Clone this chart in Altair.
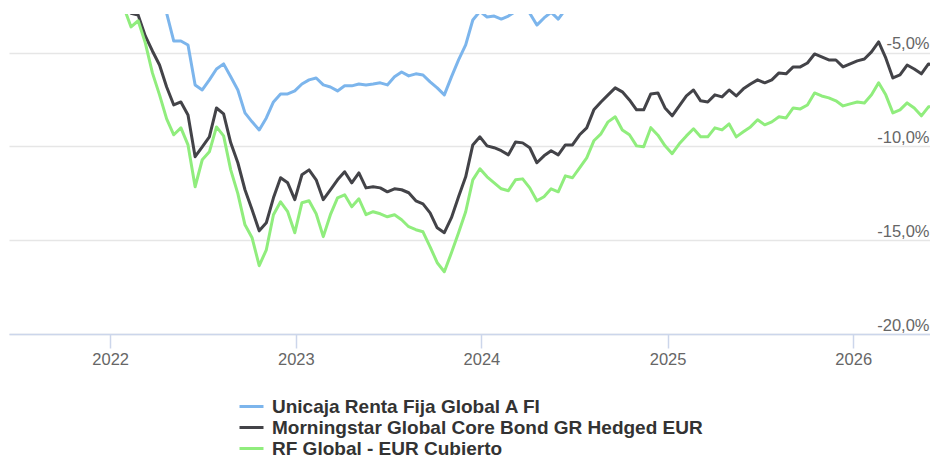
import altair as alt
import pandas as pd

# Fortnightly observations, cumulative return (%)
start_date = "2021-06-18"
n_points = 131
fechas = pd.date_range(start_date, periods=n_points, freq="14D")

series_names = [
    "Unicaja Renta Fija Global A FI",
    "Morningstar Global Core Bond GR Hedged EUR",
    "RF Global - EUR Cubierto",
]
series_colors = ["#7cb5ec", "#434348", "#90ed7d"]

unicaja = [
    0.1, 0.3, 0.4, 0.2, 0.3, 0.1, 0.0, -0.2, -0.1, -0.3, -0.4, -0.2, -0.5, -0.6, -0.7, -0.8,
    -1.1, -1.4, -1.7, -2.0, -2.3, -2.6,
    -2.9, -4.38, -4.38, -4.59, -6.72, -6.99, -6.45, -5.87, -5.60,
    -6.29, -6.99, -8.21, -8.69, -9.12, -8.48, -7.63, -7.20, -7.20, -7.04,
    -6.67, -6.45, -6.35, -6.72, -6.83, -7.04, -6.77, -6.77, -6.67, -6.72,
    -6.67, -6.61, -6.72, -6.29, -6.03, -6.24, -6.13, -6.19, -6.56, -6.88,
    -7.25, -6.29, -5.39, -4.59, -3.26, -2.8, -3.10, -3.05, -3.21, -3.05,
    -2.8, -2.6, -2.9, -3.53, -3.15, -2.85, -3.21, -2.7, -2.6, -2.2,
    -1.8, -0.9, -0.4, 0.0, 0.3, 0.2, -0.2, -0.7, -0.6, 0.1,
    0.2, -0.5, -0.9, -0.4, 0.0, 0.3, -0.2, -0.3, 0.0, -0.1,
    0.3, 0.0, 0.4, 0.6, 0.8, 0.7, 0.8, 1.2, 1.1, 1.5,
    1.5, 1.7, 2.1, 2.0, 1.9, 1.8, 1.5, 1.7, 1.8, 1.9,
    2.3, 2.8, 2.0, 1.0, 1.2, 1.6, 1.4, 1.2, 1.7, 1.6,
]

morningstar = [
    0.0, -0.2, 0.1, 0.3, 0.2, 0.0, -0.3, -0.2, -0.5, -0.4, -0.7, -0.9, -0.6, -0.8, -1.0, -1.6, -2.5,
    -2.9, -3.0, -4.11, -4.91, -5.66, -6.83, -7.79, -7.63, -8.32, -10.55, -10.02, -9.49, -7.95, -8.26,
    -9.81, -10.87, -12.31, -13.38, -14.5, -14.07, -12.74, -11.67, -11.94, -12.84,
    -11.51, -11.25, -11.78, -12.84, -12.31, -11.78, -11.35, -11.94, -11.41, -12.21,
    -12.15, -12.21, -12.42, -12.26, -12.31, -12.47, -12.90, -13.06, -13.54, -14.34,
    -14.60, -13.80, -12.68, -11.62, -9.92, -9.49, -9.97, -10.07, -10.23, -10.45,
    -9.76, -9.81, -10.07, -10.87, -10.50, -10.23, -10.45, -9.92, -9.92, -9.38,
    -9.01, -8.05, -7.63, -7.25, -6.88, -7.09, -7.52, -8.05, -8.05, -7.20,
    -7.15, -7.95, -8.37, -7.84, -7.31, -6.99, -7.57, -7.63, -7.25, -7.36,
    -6.99, -7.31, -6.93, -6.67, -6.45, -6.61, -6.45, -6.08, -6.13, -5.76,
    -5.76, -5.55, -5.07, -5.23, -5.39, -5.39, -5.76, -5.60, -5.44, -5.34,
    -4.96, -4.43, -5.28, -6.35, -6.19, -5.66, -5.87, -6.13, -5.60, -5.71,
]

rf_global = [
    0.0, -0.1, 0.2, 0.3, 0.1, -0.1, -0.3, -0.2, -0.4, -0.5, -0.8, -0.9, -0.7, -1.0, -1.2, -1.8, -2.6,
    -3.63, -3.3, -4.48, -6.08, -7.25, -8.53, -9.38, -9.01, -9.92, -12.15, -10.71, -10.29, -8.96, -9.44,
    -11.25, -12.52, -14.18, -14.87, -16.36, -15.51, -13.64, -12.95, -13.48, -14.60,
    -13.00, -12.90, -13.59, -14.81, -13.64, -12.74, -12.58, -13.22, -12.79, -13.64,
    -13.48, -13.59, -13.75, -13.64, -13.91, -14.28, -14.44, -14.55, -15.35, -16.20,
    -16.68, -15.67, -14.60, -13.48, -11.78, -11.19, -11.62, -11.94, -12.26, -12.36,
    -11.78, -11.73, -12.21, -12.90, -12.68, -12.26, -12.42, -11.57, -11.67, -11.14,
    -10.61, -9.70, -9.33, -8.69, -8.42, -9.12, -9.38, -9.97, -10.02, -9.0,
    -9.4, -9.97, -10.39, -9.86, -9.44, -9.06, -9.49, -9.49, -9.01, -9.12,
    -8.80, -9.49, -9.22, -8.96, -8.58, -8.85, -8.69, -8.42, -8.48, -7.95,
    -8.00, -7.79, -7.15, -7.31, -7.41, -7.57, -7.84, -7.73, -7.63, -7.68,
    -7.25, -6.61, -7.25, -8.21, -8.05, -7.68, -7.95, -8.37, -7.89, -7.89,
]

year_ticks = [2022, 2023, 2024, 2025, 2026]
y_ticks = [-20, -15, -10, -5]
y_min, y_max = -20, -2.94

frames = []
for name, vals in zip(series_names, [unicaja, morningstar, rf_global]):
    frames.append(pd.DataFrame({"fecha": fechas, "serie": name, "valor": vals}))
df = pd.concat(frames, ignore_index=True)

FONT = "Liberation Sans, Arial, Helvetica, sans-serif"

chart = alt.Chart(df).mark_line(strokeWidth=3, clip=True, strokeJoin="round", strokeCap="round").encode(
    x=alt.X(
        "fecha:T",
        scale=alt.Scale(domain=[alt.DateTime(year=2021, month=6, date=16),
                                alt.DateTime(year=2026, month=6, date=1)]),
        axis=alt.Axis(
            values=[alt.DateTime(year=y, month=1, date=1) for y in year_ticks],
            format="%Y", title=None, grid=False,
            domainColor="#ccd6eb", domainWidth=1.5,
            tickColor="#ccd6eb", tickWidth=1.5, tickSize=14,
            labelColor="#666666", labelFontSize=16.5, labelFont=FONT,
            labelPadding=3, labelFlush=False,
        ),
    ),
    y=alt.Y(
        "valor:Q",
        scale=alt.Scale(domain=[y_min, y_max], nice=False, zero=False),
        axis=alt.Axis(
            orient="right", values=y_ticks, labelExpr="datum.value + ',0%'",
            title=None, domain=False, ticks=False, tickSize=0,
            grid=True, gridColor="#e6e6e6", gridWidth=1.5,
            labelAlign="right", labelBaseline="alphabetic",
            labelPadding=-1, labelOffset=-4,
            labelColor="#666666", labelFontSize=16.5, labelFont=FONT,
            labelFlush=False,
        ),
    ),
    color=alt.Color(
        "serie:N",
        scale=alt.Scale(domain=series_names, range=series_colors),
        legend=alt.Legend(
            title=None, orient="none", legendX=233, legendY=383,
            direction="vertical", symbolType="M-1.5,0H1.5", symbolSize=256,
            symbolStrokeWidth=3, labelFontSize=19, labelFontWeight="bold",
            labelColor="#333333", labelFont=FONT, labelOffset=11,
            rowPadding=1, padding=0, labelLimit=600,
        ),
    ),
).properties(
    width=921, height=320,
    padding={"left": 1, "top": 6, "right": 0, "bottom": 125},
    autosize=alt.AutoSizeParams(type="none"),
).configure_view(stroke=None)

chart.save("out.html", embed_options={"renderer": "svg", "actions": False})
